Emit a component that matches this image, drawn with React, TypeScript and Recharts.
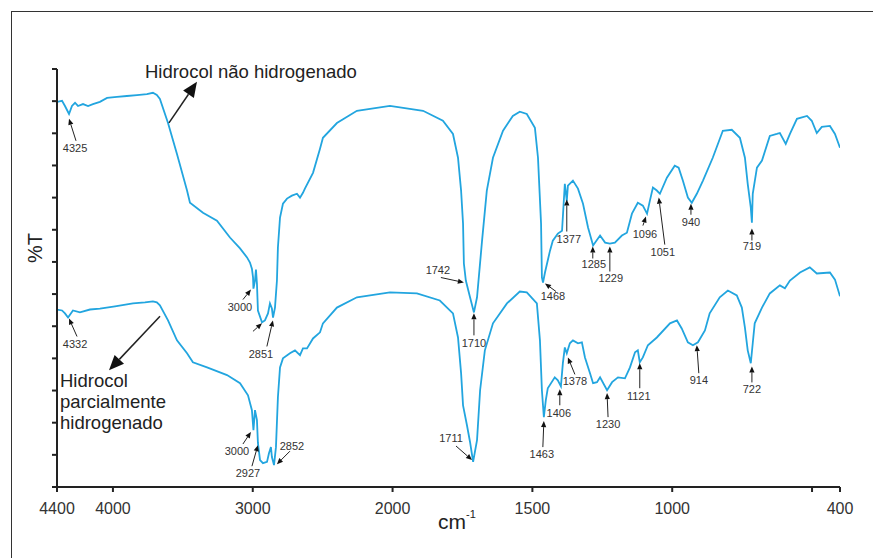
import React from 'react';
import { LineChart, Line, XAxis, YAxis, ReferenceDot } from 'recharts';

// FTIR spectra, wavenumber in cm-1, %T in arbitrary units (offset traces)
// upper trace: Hidrocol não hidrogenado
const topWn = [
  4400, 4364, 4343, 4314, 4293, 4271, 4250, 4214, 4178, 4143, 4093, 4042, 3971,
  3900, 3828, 3757, 3714, 3686, 3664, 3606, 3542, 3470, 3449, 3356, 3256, 3163,
  3091, 3041, 3020, 3006, 2998, 2995, 2984, 2977, 2970, 2963, 2934, 2913, 2891,
  2877, 2863, 2855, 2841, 2827, 2820, 2805, 2784, 2755, 2720, 2684, 2662, 2641,
  2627, 2569, 2519, 2498, 2398, 2255, 2019, 1891, 1820, 1784, 1766, 1755, 1748,
  1745, 1738, 1723, 1709, 1698, 1680, 1663, 1641, 1605, 1570, 1545, 1520, 1491,
  1480, 1469, 1466, 1462, 1455, 1437, 1427, 1409, 1394, 1384, 1377, 1373, 1355,
  1337, 1319, 1301, 1283, 1258, 1240, 1223, 1205, 1180, 1162, 1144, 1123, 1105,
  1090, 1080, 1069, 1055, 1044, 1019, 991, 977, 962, 944, 930, 912, 890, 855,
  819, 787, 758, 740, 730, 719, 715, 712, 697, 679, 651, 626, 615, 594, 579,
  554, 518, 501, 483, 465, 436, 418, 400,
];
const topT = [
  119.8, 120.1, 118.5, 116.0, 118.5, 119.5, 118.5, 119.1, 118.5, 119.1, 119.8,
  121.0, 121.3, 121.6, 121.9, 122.2, 122.6, 121.9, 120.7, 113.2, 103.6, 92.2,
  88.4, 85.3, 82.8, 77.6, 74.2, 71.4, 69.8, 67.9, 65.2, 61.7, 64.2, 67.6, 63.3,
  54.9, 51.2, 51.8, 54.0, 57.1, 55.5, 52.7, 55.8, 64.2, 74.5, 83.8, 88.1, 89.7,
  90.6, 91.2, 90.0, 91.5, 92.8, 97.7, 105.2, 108.6, 113.2, 117.0, 118.5, 117.0,
  113.9, 109.8, 102.4, 92.2, 81.9, 69.5, 64.2, 59.0, 54.3, 59.0, 76.6, 92.2,
  102.4, 110.8, 115.4, 116.7, 116.0, 111.7, 102.4, 81.9, 65.2, 63.6, 66.7, 73.5,
  76.6, 78.8, 79.7, 94.3, 89.0, 93.7, 95.3, 92.8, 88.1, 80.7, 75.1, 78.2, 76.0,
  75.7, 76.0, 78.2, 79.1, 85.0, 88.4, 87.5, 85.0, 89.0, 93.1, 92.2, 91.2, 96.2,
  99.9, 99.3, 95.3, 90.0, 88.4, 91.2, 95.3, 102.4, 110.8, 111.1, 108.6, 102.4,
  94.3, 86.9, 82.2, 91.2, 99.3, 101.5, 109.2, 109.8, 110.1, 106.7, 109.8, 114.5,
  115.4, 113.9, 110.1, 112.0, 112.3, 109.8, 105.5,
];

// lower trace: Hidrocol parcialmente hidrogenado
const botWn = [
  4400, 4364, 4343, 4321, 4286, 4236, 4164, 4093, 3985, 3857, 3771, 3714, 3686,
  3664, 3606, 3542, 3470, 3428, 3327, 3184, 3091, 3034, 3006, 2995, 2984, 2970,
  2963, 2948, 2927, 2898, 2884, 2870, 2863, 2848, 2834, 2820, 2805, 2784, 2734,
  2698, 2662, 2641, 2612, 2569, 2519, 2498, 2398, 2255, 2019, 1913, 1831, 1784,
  1766, 1755, 1748, 1734, 1723, 1712, 1698, 1687, 1670, 1641, 1591, 1545, 1520,
  1484, 1473, 1466, 1459, 1452, 1445, 1420, 1409, 1398, 1391, 1384, 1377, 1366,
  1355, 1337, 1323, 1312, 1294, 1283, 1269, 1258, 1233, 1215, 1194, 1169, 1151,
  1133, 1123, 1116, 1105, 1087, 1055, 1008, 983, 966, 944, 926, 908, 883, 866,
  830, 801, 769, 751, 740, 730, 719, 712, 705, 679, 651, 615, 597, 579, 543, 508,
  483, 436, 418, 400,
];
const botT = [
  55.2, 54.9, 54.0, 52.7, 54.9, 54.3, 55.2, 55.5, 56.2, 57.1, 57.4, 57.7, 57.4,
  56.5, 51.8, 45.6, 41.6, 38.8, 37.2, 34.8, 32.3, 28.5, 23.9, 17.7, 23.9, 20.8,
  13.7, 8.4, 7.4, 7.8, 10.5, 12.4, 9.3, 6.8, 12.4, 27.9, 37.2, 40.0, 41.6, 42.5,
  41.0, 43.1, 43.1, 46.2, 48.1, 50.9, 55.8, 59.0, 60.5, 60.2, 58.0, 54.0, 46.5,
  35.4, 25.4, 19.2, 14.0, 7.8, 14.6, 30.1, 42.5, 50.9, 57.1, 60.8, 60.5, 57.1,
  45.6, 30.1, 21.7, 27.0, 30.7, 34.1, 33.2, 31.3, 38.5, 43.4, 41.6, 44.7, 45.6,
  44.7, 45.0, 40.3, 35.4, 32.3, 32.6, 34.1, 30.1, 32.6, 34.1, 33.8, 37.2, 41.9,
  42.5, 38.8, 40.3, 44.1, 46.5, 50.9, 51.8, 49.3, 45.0, 44.1, 45.0, 48.7, 54.0,
  59.0, 61.1, 59.6, 55.8, 49.6, 42.5, 38.5, 44.7, 50.9, 55.8, 60.2, 62.7, 61.8,
  64.2, 66.7, 68.3, 66.4, 66.7, 64.5, 59.3,
];

const xTicks = [4400, 4000, 3000, 2000, 1500, 1000, 500, 400];
const yTicks = [0, 10, 20, 30, 40, 50, 60, 70, 80, 90, 100, 110, 120, 130];

// band labels: tip of the arrow in data units, tail and text offsets in px
const peaks = [
  { label: '4325', wn: 4314, T: 114.5, tail: [7, 22], text: [6, 33] },
  { label: '3000', wn: 3013, T: 61.4, tail: [-8, 10], text: [-11, 21] },
  { label: '', wn: 2934, T: 50.9, tail: [-9, 8], text: [0, 0] },
  { label: '2851', wn: 2856, T: 51.8, tail: [-6, 26], text: [-12, 38] },
  { label: '1742', wn: 1745, T: 63.6, tail: [-23, -5], text: [-26, -9] },
  { label: '1710', wn: 1709, T: 54.0, tail: [0, 22], text: [0, 34] },
  { label: '1468', wn: 1455, T: 63.3, tail: [11, 8], text: [8, 17] },
  { label: '1377', wn: 1377, T: 89.4, tail: [0, 32], text: [2, 43] },
  { label: '1285', wn: 1284, T: 74.8, tail: [0, 12], text: [1, 22] },
  { label: '1229', wn: 1223, T: 74.8, tail: [0, 25], text: [1, 36] },
  { label: '1096', wn: 1094, T: 84.1, tail: [-3, 9], text: [-1, 21] },
  { label: '1051', wn: 1048, T: 90.0, tail: [6, 47], text: [4, 58] },
  { label: '940', wn: 933, T: 88.1, tail: [0, 11], text: [0, 22] },
  { label: '719', wn: 715, T: 80.4, tail: [0, 12], text: [0, 22] },
  { label: '4332', wn: 4314, T: 52.4, tail: [8, 18], text: [6, 29] },
  { label: '3000', wn: 3013, T: 17.1, tail: [-8, 12], text: [-14, 23] },
  { label: '2927', wn: 2963, T: 13.0, tail: [-6, 21], text: [-10, 32] },
  { label: '2852', wn: 2827, T: 7.1, tail: [13, -13], text: [15, -14] },
  { label: '1711', wn: 1716, T: 8.4, tail: [-16, -14], text: [-21, -18] },
  { label: '1463', wn: 1459, T: 20.5, tail: [-1, 26], text: [-2, 37] },
  { label: '1406', wn: 1402, T: 30.4, tail: [0, 16], text: [-1, 28] },
  { label: '1378', wn: 1373, T: 40.3, tail: [7, 17], text: [7, 28] },
  { label: '1230', wn: 1233, T: 29.2, tail: [1, 24], text: [1, 35] },
  { label: '1121', wn: 1116, T: 38.5, tail: [0, 25], text: [-1, 37] },
  { label: '914', wn: 912, T: 44.1, tail: [2, 28], text: [2, 39] },
  { label: '722', wn: 715, T: 37.5, tail: [0, 16], text: [0, 27] },
];

const seriesNames = [
  ['Hidrocol não hidrogenado'],
  ['Hidrocol', 'parcialmente', 'hidrogenado'],
];

const LINE_COLOR = '#22a5df';
const FONT = '"Liberation Sans", Arial, sans-serif';

// the wavenumber axis doubles its scale below 2000 cm-1
const toAxis = (wn: number) =>
  wn >= 2000 ? (4400 - wn) / 2 : 1200 + (2000 - wn);
const fromAxis = (t: number) => (t <= 1200 ? 4400 - t * 2 : 2000 - (t - 1200));

const topData = topWn.map((wn, i) => ({ t: toAxis(wn), T: topT[i] }));
const botData = botWn.map((wn, i) => ({ t: toAxis(wn), T: botT[i] }));

const Arrow = ({ x1, y1, x2, y2, head, half, width }: any) => {
  const dx = x2 - x1;
  const dy = y2 - y1;
  const len = Math.hypot(dx, dy) || 1;
  const ux = dx / len;
  const uy = dy / len;
  const bx = x2 - ux * head;
  const by = y2 - uy * head;
  const pts = `${x2},${y2} ${bx - uy * half},${by + ux * half} ${bx + uy * half},${by - ux * half}`;
  return (
    <g>
      <line x1={x1} y1={y1} x2={bx} y2={by} stroke="#222" strokeWidth={width} />
      <polygon points={pts} fill="#111" />
    </g>
  );
};

export default function App() {
  return (
    <div
      style={{
        position: 'absolute',
        left: 0,
        top: 0,
        width: 873,
        height: 558,
        background: '#fff',
        fontFamily: FONT,
      }}
    >
      {/* cropped frame */}
      <div
        style={{
          position: 'absolute',
          left: 11,
          top: 11,
          width: 862,
          height: 547,
          borderTop: '1.5px solid #333',
          borderLeft: '1.5px solid #333',
        }}
      />
      <LineChart
        width={873}
        height={558}
        margin={{ top: 69, right: 33, bottom: 41, left: 37 }}
        style={{ position: 'absolute', left: 0, top: 0 }}
      >
        <XAxis
          type="number"
          dataKey="t"
          domain={[0, 2800]}
          ticks={xTicks.map(toAxis)}
          tickFormatter={(t: number) => {
            const wn = Math.round(fromAxis(t));
            return wn === 500 ? '' : String(wn);
          }}
          height={30}
          stroke="#222"
          strokeWidth={2}
          tickSize={5}
          tickMargin={11}
          tick={{ fill: '#333', fontSize: 16, fontFamily: FONT }}
          allowDataOverflow
        />
        <YAxis
          type="number"
          domain={[0, 130]}
          ticks={yTicks}
          width={20}
          stroke="#222"
          strokeWidth={2}
          tickSize={5}
          tickLine={{ stroke: '#222', strokeWidth: 2 }}
          tickFormatter={() => ''}
          allowDataOverflow
        />
        <Line
          data={topData}
          dataKey="T"
          type="linear"
          stroke={LINE_COLOR}
          strokeWidth={1.8}
          dot={false}
          isAnimationActive={false}
        />
        <Line
          data={botData}
          dataKey="T"
          type="linear"
          stroke={LINE_COLOR}
          strokeWidth={1.8}
          dot={false}
          isAnimationActive={false}
        />
        {peaks.map((p, i) => (
          <ReferenceDot
            key={`peak-${i}`}
            x={toAxis(p.wn)}
            y={p.T}
            r={0}
            shape={(props: any) => (
              <g>
                <Arrow
                  x1={props.cx + p.tail[0]}
                  y1={props.cy + p.tail[1]}
                  x2={props.cx}
                  y2={props.cy}
                  head={6}
                  half={2.6}
                  width={1}
                />
                {p.label && (
                  <text
                    x={props.cx + p.text[0]}
                    y={props.cy + p.text[1]}
                    textAnchor="middle"
                    fontSize={11}
                    fontFamily={FONT}
                    fill="#333"
                  >
                    {p.label}
                  </text>
                )}
              </g>
            )}
          />
        ))}
        <ReferenceDot
          x={toAxis(3399)}
          y={126}
          r={0}
          shape={(props: any) => (
            <g>
              <Arrow
                x1={props.cx - 28}
                y1={props.cy + 41}
                x2={props.cx}
                y2={props.cy}
                head={15}
                half={6.5}
                width={1.5}
              />
              <text
                x={props.cx - 52}
                y={props.cy - 4}
                fontSize={18.5}
                fontFamily={FONT}
                fill="#222"
              >
                {seriesNames[0][0]}
              </text>
            </g>
          )}
        />
        <ReferenceDot
          x={toAxis(4028)}
          y={36.3}
          r={0}
          shape={(props: any) => (
            <g>
              <Arrow
                x1={props.cx + 51}
                y1={props.cy - 54}
                x2={props.cx}
                y2={props.cy}
                head={15}
                half={6.5}
                width={1.5}
              />
              <text fontSize={18.5} fontFamily={FONT} fill="#222">
                {seriesNames[1].map((s, k) => (
                  <tspan key={s} x={props.cx - 49} y={props.cy + 17 + k * 21}>
                    {s}
                  </tspan>
                ))}
              </text>
            </g>
          )}
        />
      </LineChart>
      <div
        style={{
          position: 'absolute',
          left: 35,
          top: 248,
          transform: 'translate(-50%, -50%) rotate(-90deg)',
          fontSize: 20,
          color: '#222',
          lineHeight: 1,
        }}
      >
        %T
      </div>
      <div
        style={{
          position: 'absolute',
          left: 438,
          top: 511,
          fontSize: 21,
          color: '#222',
          lineHeight: '21px',
        }}
      >
        cm
        <span style={{ fontSize: 11, position: 'relative', top: -11 }}>-1</span>
      </div>
    </div>
  );
}
